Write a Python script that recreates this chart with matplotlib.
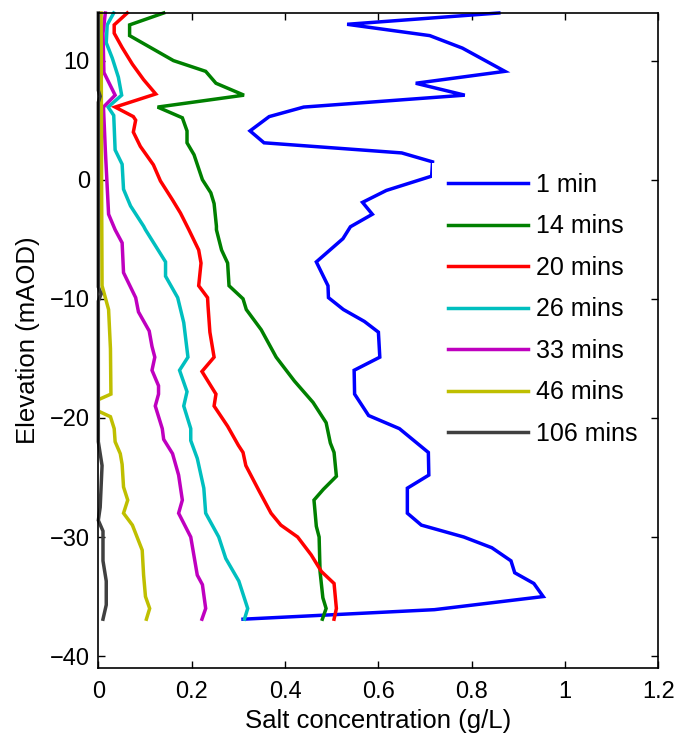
import numpy as np
import matplotlib
matplotlib.use("Agg")
import matplotlib.pyplot as plt
from matplotlib.patches import Rectangle
from matplotlib.ticker import FormatStrFormatter

plt.rcParams["font.family"] = ["Liberation Sans", "DejaVu Sans"]

nan = np.nan

# 1 min
c01 = [0.858, 0.533, 0.71, 0.78, 0.871, 0.68, 0.785, 0.44, 0.366, 0.325, 0.355, 0.65, 0.716,
       0.714, 0.617, 0.566, 0.587, 0.54, 0.524, 0.467, 0.492, 0.493, 0.525, 0.57, 0.60, 0.603,
       0.548, 0.549, 0.579, 0.645, 0.707, 0.708, 0.662, 0.662, 0.692, 0.783, 0.843, 0.884,
       0.892, 0.933, 0.953, 0.72, 0.31]
z01 = [14.0, 13.05, 12.1, 11.05, 9.1, 8.1, 7.1, 6.1, 5.3, 4.1, 3.1, 2.25, 1.5,
       0.3, -0.9, -1.9, -2.9, -3.95, -4.95, -6.9, -8.9, -9.9, -10.9, -11.9, -12.8, -14.9,
       -16.0, -18.0, -19.8, -20.9, -22.9, -24.8, -25.9, -28.0, -29.0, -30.0, -30.9, -32.0,
       -33.0, -33.9, -35.0, -36.1, -36.9]

# 14 mins
c14 = [0.14, 0.067, 0.067, 0.161, 0.23, 0.252, 0.312, 0.127, 0.18, 0.19, 0.19, 0.205, 0.223,
       0.241, 0.248, 0.253, 0.253, 0.264, 0.277, 0.28, 0.31, 0.317, 0.349, 0.381, 0.42, 0.46,
       0.488, 0.497, 0.505, 0.51, 0.482, 0.462, 0.467, 0.473, 0.475, 0.481, 0.488, 0.48]
z14 = [14.0, 13.0, 12.1, 10.0, 9.1, 8.1, 7.1, 6.1, 5.2, 4.1, 3.1, 2.1, 0.0,
       -1.1, -2.0, -3.9, -4.2, -5.9, -7.0, -8.9, -10.0, -10.9, -12.6, -14.9, -16.9, -18.7,
       -20.4, -22.1, -22.9, -24.9, -26.0, -26.9, -29.1, -30.0, -32.9, -35.1, -36.0, -36.9]

# 20 mins
c20 = [0.062, 0.034, 0.034, 0.051, 0.073, 0.097, 0.123, 0.036, 0.075, 0.08, 0.075, 0.09, 0.118,
       0.133, 0.159, 0.176, 0.194, 0.215, 0.22, 0.215, 0.234, 0.235, 0.239, 0.248, 0.222, 0.252,
       0.248, 0.277, 0.30, 0.31, 0.316, 0.344, 0.37, 0.391, 0.427, 0.456, 0.478, 0.505, 0.51,
       0.505]
z20 = [14.0, 13.0, 12.3, 11.1, 9.7, 8.4, 7.2, 6.1, 5.3, 5.0, 4.0, 2.8, 1.25,
       -0.1, -1.7, -2.8, -4.2, -5.9, -7.0, -8.9, -9.9, -10.6, -12.8, -14.9, -16.1, -18.0,
       -19.0, -20.7, -22.3, -22.9, -24.0, -26.1, -28.0, -29.0, -30.0, -31.5, -32.9, -33.9, -36.0,
       -36.9]

# 26 mins
c26 = [0.033, 0.019, 0.017, 0.03, 0.043, 0.05, 0.021, 0.033, 0.036, 0.051, 0.054, 0.069, 0.097,
       0.101, 0.144, 0.144, 0.17, 0.183, 0.192, 0.174, 0.19, 0.183, 0.198, 0.198, 0.212, 0.226,
       0.23, 0.258, 0.273, 0.301, 0.32, 0.313]
z26 = [14.0, 13.0, 11.5, 10.2, 8.6, 7.1, 6.1, 5.4, 2.5, 1.3, -0.8, -2.2, -3.9,
       -4.2, -6.9, -8.1, -9.9, -12.0, -14.9, -16.0, -17.8, -19.0, -20.9, -21.9, -23.4, -25.9,
       -28.0, -30.0, -31.8, -33.7, -36.0, -36.9]

# 33 mins
c33 = [0.015, 0.01, 0.012, 0.036, 0.011, 0.015, 0.022, 0.036, 0.051, 0.054, 0.08, 0.086, 0.109,
       0.115, 0.121, 0.115, 0.129, 0.129, 0.122, 0.137, 0.14, 0.159, 0.172, 0.18, 0.172, 0.198,
       0.212, 0.223, 0.23, 0.222]
z33 = [14.0, 12.3, 9.0, 7.1, 6.1, 2.5, -2.9, -4.2, -5.3, -7.8, -9.9, -11.1, -12.7,
       -14.0, -14.9, -16.0, -17.3, -18.0, -19.0, -20.9, -21.8, -23.0, -24.8, -26.9, -28.0, -30.0,
       -33.2, -34.0, -36.0, -36.9]

# 46 mins
c46 = [0.006, 0.007, 0.008, 0.022, 0.026, 0.027, 0.004, nan, 0.004, 0.026, 0.034, 0.036, 0.047,
       0.051, 0.054, 0.063, 0.054, 0.073, 0.094, 0.097, 0.101, 0.11, 0.103]
z46 = [14.0, 0.0, -8.9, -10.9, -14.2, -18.0, -18.4, -19.0, -19.5, -19.9, -20.9, -22.0, -23.0,
       -23.9, -25.8, -26.9, -28.0, -29.0, -31.1, -33.2, -35.0, -36.0, -36.9]

# 106 mins
c106 = [0.0, 0.0, 0.004, 0.0, 0.0, 0.006, 0.0, 0.0, 0.008, 0.004, 0.0, 0.01, 0.01, 0.017, 0.017,
        0.01]
z106 = [14.0, 7.5, 7.0, 6.5, -9.0, -9.6, -10.2, -22.0, -24.0, -27.5, -28.6, -29.5, -32.0, -33.7,
        -35.7, -36.9]

series = [
    (c01, z01, "1 min", (0, 0, 1)),
    (c14, z14, "14 mins", (0, 0.5, 0)),
    (c20, z20, "20 mins", (1, 0, 0)),
    (c26, z26, "26 mins", (0, 0.75, 0.75)),
    (c33, z33, "33 mins", (0.75, 0, 0.75)),
    (c46, z46, "46 mins", (0.75, 0.75, 0)),
    (c106, z106, "106 mins", (0.25, 0.25, 0.25)),
]

fig = plt.figure(figsize=(6.79, 7.42), dpi=100)
ax = fig.add_axes([0.1448, 0.0997, 0.825, 0.8828])

for c, z, label, color in series:
    ax.plot(c, z, color=color, lw=2.5, label=label, clip_on=False,
            solid_joinstyle="miter")

ax.set_xlim(0, 1.2)
ax.set_ylim(-41, 14)
ax.set_xticks(np.arange(0, 1.21, 0.2))
ax.set_yticks([-40, -30, -20, -10, 0, 10])
ax.xaxis.set_major_formatter(FormatStrFormatter("%g"))
ax.tick_params(axis="both", direction="in", top=True, right=True, length=5, width=1,
               labelsize=17)
ax.tick_params(axis="x", pad=9)
ax.tick_params(axis="y", pad=6)
for s in ax.spines.values():
    s.set_linewidth(1.2)

ax.set_xlabel("Salt concentration (g/L)", fontsize=18.5, labelpad=5)
ax.set_ylabel("Elevation (mAOD)", fontsize=18.5, labelpad=7)

# white legend box (MATLAB-style, no border) that hides the lines behind it
ax.add_patch(Rectangle((0.595, 0.33), 0.39, 0.441, transform=ax.transAxes,
                       facecolor="white", edgecolor="none", zorder=3))
leg = ax.legend(loc="upper left", bbox_to_anchor=(0.607, 0.771), fontsize=18,
                frameon=False, handlelength=3.2, handletextpad=0.3,
                labelspacing=0.7, borderpad=0.4, borderaxespad=0)
leg.set_zorder(4)

fig.savefig("out.png", dpi=100)
